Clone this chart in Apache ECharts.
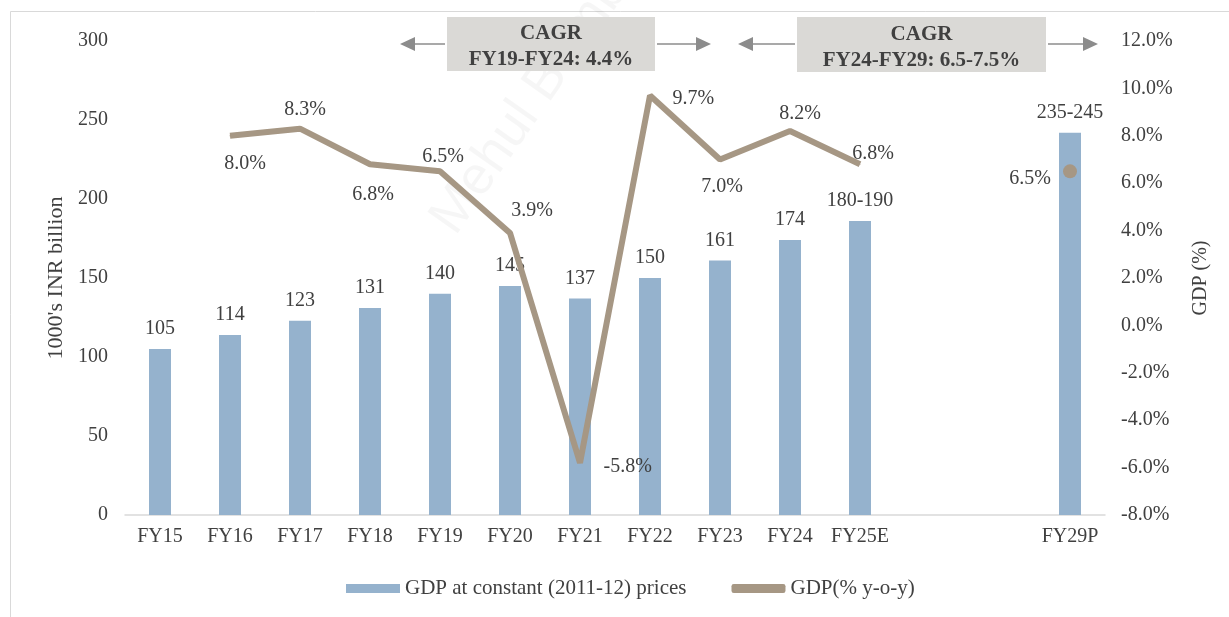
<!DOCTYPE html>
<html>
<head>
<meta charset="utf-8">
<script src="https://cdn.jsdelivr.net/npm/echarts@6/dist/echarts.min.js"></script>
<style>
html,body{margin:0;padding:0;background:#fff;}
#main{width:1229px;height:617px;}
</style>
</head>
<body>
<div id="main"></div>
<script>
// ---- data ----
const categories = ['FY15','FY16','FY17','FY18','FY19','FY20','FY21','FY22','FY23','FY24','FY25E','','','FY29P'];
const gdpValues = [105,114,123,131,140,145,137,150,161,174,186,null,null,242];
const gdpLabels = ['105','114','123','131','140','145','137','150','161','174','180-190','','','235-245'];
const growthValues = [null,8.0,8.3,6.8,6.5,3.9,-5.8,9.7,7.0,8.2,6.8,null,null,null];
const projectedGrowth = [null,null,null,null,null,null,null,null,null,null,null,null,null,6.5];
const leftTicks = {min:0,max:300,interval:50};
const rightTicks = {min:-8,max:12,interval:2};
const barName = 'GDP at constant (2011-12) prices';
const lineName = 'GDP(% y-o-y)';
const cagr1 = ['CAGR','FY19-FY24: 4.4%'];
const cagr2 = ['CAGR','FY24-FY29: 6.5-7.5%'];

// ---- styles ----
const FONT = '"Liberation Serif","Times New Roman",serif';
const TXT = '#404040';
const BAR = '#95b2cd';
const LINE = '#a69784';

// label placement for line points (by index)
const lineLabelCfg = {
  1:{position:'bottom',offset:[15,11]},
  2:{position:'top',offset:[5,-2]},
  3:{position:'bottom',offset:[3,14]},
  4:{position:'top',offset:[3,2]},
  5:{position:'top',offset:[22,-6]},
  6:{position:'right',offset:[17,4]},
  7:{position:'right',offset:[16,3]},
  8:{position:'bottom',offset:[2,11]},
  9:{position:'top',offset:[10,-1]},
  10:{position:'top',offset:[13,6]}
};

const lineData = growthValues.map((v,i)=>{
  if(v===null) return null;
  const c = lineLabelCfg[i] || {position:'top',offset:[0,0]};
  return {value:v,label:{show:true,position:c.position,offset:c.offset}};
});

const chart = echarts.init(document.getElementById('main'),null,{renderer:'canvas'});

function arrowLine(x1,x2,y,dir){
  const els = [];
  const head = 15, half = 7;
  if(dir<0){
    els.push({type:'line',shape:{x1:x1+head,y1:y,x2:x2,y2:y},style:{stroke:'#8c8c8c',lineWidth:1.5},z:20});
    els.push({type:'polygon',shape:{points:[[x1,y],[x1+head,y-half],[x1+head,y+half]]},style:{fill:'#8c8c8c'},z:20});
  } else {
    els.push({type:'line',shape:{x1:x1,y1:y,x2:x2-head,y2:y},style:{stroke:'#8c8c8c',lineWidth:1.5},z:20});
    els.push({type:'polygon',shape:{points:[[x2,y],[x2-head,y-half],[x2-head,y+half]]},style:{fill:'#8c8c8c'},z:20});
  }
  return els;
}

function cagrBox(x,y,w,h,lines){
  return [
    {type:'rect',shape:{x:x,y:y,width:w,height:h},style:{fill:'#dad9d6'},z:20},
    {type:'text',x:x+w/2,y:y+h/2+3,z:21,style:{text:lines.join('\n'),font:'bold 21px '+FONT,fill:TXT,align:'center',verticalAlign:'middle',lineHeight:26}}
  ];
}

const graphics = [].concat(
  [{type:'rect',shape:{x:10.5,y:11.5,width:1240,height:640},style:{fill:null,stroke:'#d9d9d9',lineWidth:1},z:-10,silent:true}],
  [{type:'text',x:530,y:104,rotation:0.96,z:-5,style:{text:'Mehul Bumb',font:'54px "Liberation Sans",Arial,sans-serif',fill:'rgba(0,0,0,0.035)',align:'center',verticalAlign:'middle'}}],
  cagrBox(447,17,208,54,cagr1),
  arrowLine(400,445,44,-1),
  arrowLine(657,711,44,1),
  cagrBox(797,17,249,55,cagr2),
  arrowLine(738,795,44,-1),
  arrowLine(1048,1098,44,1)
);

const option = {
  backgroundColor:'#fff',
  animation:false,
  textStyle:{fontFamily:FONT,color:TXT},
  grid:{left:125,right:124,top:41,bottom:102,containLabel:false},
  legend:{
    bottom:13,left:341,itemGap:45,itemWidth:54,itemHeight:9,
    textStyle:{fontFamily:FONT,fontSize:21,color:TXT},
    data:[{name:barName,icon:'rect'},{name:lineName,icon:'roundRect',itemStyle:{color:LINE}}]
  },
  xAxis:{
    type:'category',data:categories,
    axisLine:{lineStyle:{color:'#d9d9d9',width:1.5}},
    axisTick:{show:false},
    axisLabel:{interval:0,fontFamily:FONT,fontSize:20,color:TXT,margin:12}
  },
  yAxis:[
    {type:'value',min:leftTicks.min,max:leftTicks.max,interval:leftTicks.interval,
     name:"1000's INR billion",nameLocation:'middle',nameGap:44,
     nameTextStyle:{fontFamily:FONT,fontSize:22,color:TXT},
     axisLine:{show:false},axisTick:{show:false},splitLine:{show:false},
     axisLabel:{fontFamily:FONT,fontSize:20,color:TXT,margin:17}},
    {type:'value',min:rightTicks.min,max:rightTicks.max,interval:rightTicks.interval,
     name:'GDP (%)',nameLocation:'middle',nameGap:86,nameRotate:90,
     nameTextStyle:{fontFamily:FONT,fontSize:20,color:TXT},
     axisLine:{show:false},axisTick:{show:false},splitLine:{show:false},
     axisLabel:{fontFamily:FONT,fontSize:20,color:TXT,margin:16,formatter:v=>v.toFixed(1)+'%'}}
  ],
  series:[
    {name:barName,type:'bar',yAxisIndex:0,barWidth:22,data:gdpValues,
     itemStyle:{color:BAR},
     label:{show:true,position:'top',distance:10,fontFamily:FONT,fontSize:20,color:TXT,
       formatter:p=>gdpLabels[p.dataIndex]}},
    {name:lineName,type:'line',yAxisIndex:1,data:lineData,
     symbol:'circle',symbolSize:1,showSymbol:true,connectNulls:false,
     lineStyle:{color:LINE,width:6},itemStyle:{color:LINE},
     label:{show:true,fontFamily:FONT,fontSize:20,color:TXT,distance:6,
       formatter:p=>Number(p.value).toFixed(1)+'%'},
     z:3},
    {name:'projected',type:'scatter',yAxisIndex:1,data:projectedGrowth,
     symbolSize:14,itemStyle:{color:LINE,opacity:1},
     label:{show:true,position:'left',distance:12,offset:[0,7],fontFamily:FONT,fontSize:20,color:TXT,
       formatter:p=>Number(p.value).toFixed(1)+'%'},z:4}
  ],
  graphic:graphics
};
chart.setOption(option);
</script>
</body>
</html>
